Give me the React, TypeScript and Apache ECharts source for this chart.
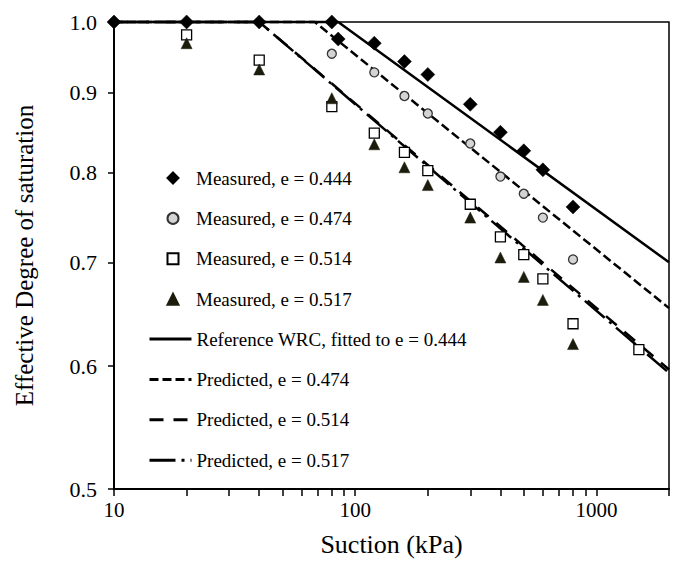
import React, { useEffect, useRef } from "react";
import * as echarts from "echarts";

// Measured data (suction kPa, effective degree of saturation)
const m444X = [10, 20, 40, 80, 85, 120, 160, 200, 300, 400, 500, 600, 800];
const m444Y = [1.0, 1.0, 1.0, 1.0, 0.975, 0.969, 0.943, 0.925, 0.885, 0.849, 0.826, 0.803, 0.76];

const m474X = [80, 120, 160, 200, 300, 400, 500, 600, 800];
const m474Y = [0.954, 0.928, 0.896, 0.873, 0.835, 0.795, 0.775, 0.748, 0.703];

const m514X = [20, 40, 80, 120, 160, 200, 300, 400, 500, 600, 800, 1500];
const m514Y = [0.981, 0.945, 0.882, 0.848, 0.824, 0.802, 0.763, 0.727, 0.708, 0.683, 0.639, 0.615];

const m517X = [20, 40, 80, 120, 160, 200, 300, 400, 500, 600, 800];
const m517Y = [0.969, 0.932, 0.893, 0.834, 0.806, 0.785, 0.748, 0.705, 0.685, 0.662, 0.62];

// Curves
const refX = [10, 85, 2000];
const refY = [1.0, 1.0, 0.7];
const p474X = [10, 68, 2000];
const p474Y = [1.0, 1.0, 0.654];
const p514X = [10, 40, 2000];
const p514Y = [1.0, 1.0, 0.597];
const p517X = [10, 40, 2000];
const p517Y = [1.0, 1.0, 0.594];

// Axis ticks / labels
const yTicks = [0.5, 0.6, 0.7, 0.8, 0.9, 1.0];
const xLabels = [10, 100, 1000];
const xTicks = [10, 20, 30, 40, 50, 60, 70, 80, 90, 100, 200, 300, 400, 500, 600, 700, 800, 900, 1000, 2000];

const measuredNames = [
  "Measured, e = 0.444",
  "Measured, e = 0.474",
  "Measured, e = 0.514",
  "Measured, e = 0.517",
];
const curveNames = [
  "Reference WRC, fitted to e = 0.444",
  "Predicted, e = 0.474",
  "Predicted, e = 0.514",
  "Predicted, e = 0.517",
];

const FONT = "'Liberation Serif', 'Times New Roman', serif";

const zip = (xs: number[], ys: number[]) => xs.map((x, i) => [x, ys[i]]);

export default function App() {
  const ref = useRef<HTMLDivElement>(null);
  useEffect(() => {
    if (!ref.current) return;
    const chart = echarts.init(ref.current, undefined, { renderer: "svg" });
    const lineSeries = (name: string, xs: number[], ys: number[], dash: any) => ({
      name,
      type: "line",
      data: zip(xs, ys),
      symbol: "none",
      showSymbol: false,
      clip: false,
      z: 2,
      lineStyle: { color: "#000", width: 2.5, type: dash },
      itemStyle: { color: "#000" },
    });
    const legendText = { fontSize: 19, fontFamily: FONT, color: "#000", lineHeight: 20 };
    chart.setOption({
      animation: false,
      backgroundColor: "#fff",
      grid: {
        left: 114,
        top: 22,
        width: 555,
        height: 468,
        show: true,
        borderColor: "#000",
        borderWidth: 1.5,
        backgroundColor: "transparent",
      },
      legend: [
        {
          orient: "vertical",
          left: 166.5,
          top: 168,
          padding: 0,
          itemWidth: 11,
          itemHeight: 11,
          itemGap: 20.4,
          textStyle: { ...legendText, padding: [0, 0, 0, 12.5] },
          data: measuredNames,
        },
        {
          orient: "vertical",
          left: 148,
          top: 329,
          padding: 0,
          itemWidth: 42,
          itemHeight: 12,
          itemGap: 20.4,
          textStyle: legendText,
          lineStyle: { width: 3 },
          data: curveNames.map((n) => ({
            name: n,
            itemStyle: { color: "rgba(0,0,0,0)", borderColor: "rgba(0,0,0,0)", borderWidth: 0 },
          })),
        },
      ],
      xAxis: {
        type: "log",
        logBase: 10,
        min: 10,
        max: 2000,
        name: "Suction (kPa)",
        nameLocation: "middle",
        nameGap: 42,
        nameTextStyle: { fontSize: 26, fontFamily: FONT, color: "#000" },
        axisLine: { show: true, lineStyle: { color: "#000", width: 2 } },
        axisTick: { show: true, inside: false, length: 7, customValues: xTicks, lineStyle: { color: "#000", width: 1.5 } },
        minorTick: { show: false },
        axisLabel: {
          customValues: xLabels,
          formatter: (v: number) => String(Math.round(v)),
          fontSize: 21,
          fontFamily: FONT,
          color: "#000",
          margin: 10,
        },
        splitLine: { show: false },
      },
      yAxis: {
        type: "log",
        logBase: 10,
        min: 0.5,
        max: 1.0,
        name: "Effective Degree of saturation",
        nameLocation: "middle",
        nameGap: 77,
        nameTextStyle: { fontSize: 25, fontFamily: FONT, color: "#000" },
        axisLine: { show: true, lineStyle: { color: "#000", width: 2 } },
        axisTick: { show: true, inside: false, length: 6, customValues: yTicks, lineStyle: { color: "#000", width: 1.5 } },
        minorTick: { show: false },
        axisLabel: {
          customValues: yTicks,
          formatter: (v: number) => v.toFixed(1),
          fontSize: 22,
          fontFamily: FONT,
          color: "#000",
          margin: 17,
        },
        splitLine: { show: false },
      },
      series: [
        {
          name: measuredNames[0],
          type: "scatter",
          data: zip(m444X, m444Y),
          symbol: "diamond",
          symbolSize: 14,
          clip: false,
          z: 5,
          itemStyle: { color: "#000", borderColor: "#000", borderWidth: 0.5, opacity: 1 },
        },
        {
          name: measuredNames[1],
          type: "scatter",
          data: zip(m474X, m474Y),
          symbol: "circle",
          symbolSize: 9,
          clip: false,
          z: 5,
          itemStyle: { color: "#d4d4d4", borderColor: "#333", borderWidth: 1.3, opacity: 1 },
        },
        {
          name: measuredNames[2],
          type: "scatter",
          data: zip(m514X, m514Y),
          symbol: "rect",
          symbolSize: 10,
          clip: false,
          z: 4,
          itemStyle: { color: "#fff", borderColor: "#000", borderWidth: 1.3, opacity: 1 },
        },
        {
          name: measuredNames[3],
          type: "scatter",
          data: zip(m517X, m517Y),
          symbol: "triangle",
          symbolSize: [11, 11],
          clip: false,
          z: 4,
          itemStyle: { color: "#1c1c0c", borderColor: "#1c1c0c", borderWidth: 0.5, opacity: 1 },
        },
        lineSeries(curveNames[0], refX, refY, "solid"),
        lineSeries(curveNames[1], p474X, p474Y, [9, 4]),
        lineSeries(curveNames[2], p514X, p514Y, [14, 10]),
        lineSeries(curveNames[3], p517X, p517Y, [26, 6, 3, 6]),
      ],
    });
    return () => chart.dispose();
  }, []);
  return (
    <div
      ref={ref}
      style={{ position: "fixed", left: 0, top: 0, width: 676, height: 562, background: "#fff" }}
    />
  );
}
